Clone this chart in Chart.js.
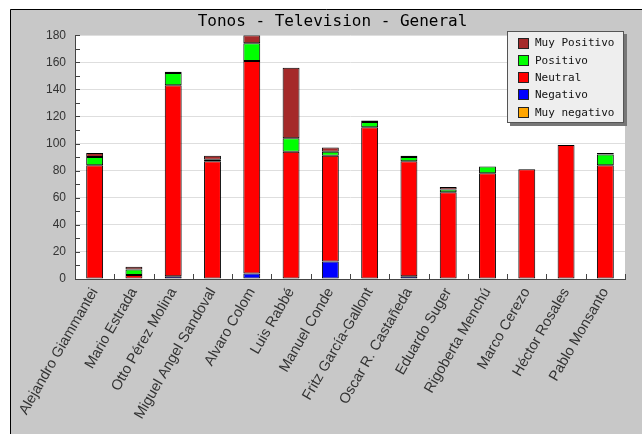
<!DOCTYPE html>
<html><head><meta charset="utf-8">
<script src="https://cdn.jsdelivr.net/npm/chart.js@4"></script>
<style>html,body{margin:0;padding:0;background:#fff}#wrap{width:642px;height:434px;position:relative}</style>
</head><body><div id="wrap"><canvas id="c" width="642" height="434"></canvas></div>
<script>
const categories = ["Alejandro Giammantei","Mario Estrada","Otto Pérez Molina","Miguel Angel Sandoval","Alvaro Colom","Luis Rabbé","Manuel Conde","Fritz García-Gallont","Oscar R. Castañeda","Eduardo Suger","Rigoberta Menchú","Marco Cerezo","Héctor Rosales","Pablo Monsanto"];
const muyNegativo = [0,0,0,0,0,0,0,0,0,0,0,0,0,0];
const negativo    = [0,0,2,0,4,0,13,0,2,0,0,0,0,0];
const neutral     = [84,3,141,87,157,94,78,112,85,64,78,81,99,84];
const positivo    = [6,4,9,1,13,10,3,4,3,2,5,0,0,8];
const muyPositivo = [3,2,1,3,6,52,3,1,1,2,0,0,0,1];
const seriesNames = ["Muy negativo","Negativo","Neutral","Positivo","Muy Positivo"];
const seriesColors = ["#ffa500","#0000ff","#ff0000","#00ff00","#a52a2a"];
const yMin = 0, yMax = 180, yStep = 20, yMinorStep = 10;
const titleText = "Tonos - Television - General";

const seriesData = [muyNegativo, negativo, neutral, positivo, muyPositivo];

const decoPlugin = {
  id: 'deco',
  beforeDraw(chart) {
    const ctx = chart.ctx, W = chart.width, H = chart.height;
    const a = chart.chartArea;
    ctx.save();
    ctx.fillStyle = '#fff'; ctx.fillRect(0, 0, W, H);
    ctx.fillStyle = '#c8c8c8'; ctx.fillRect(10, 9, W - 10, H - 9);
    ctx.strokeStyle = '#000'; ctx.lineWidth = 1;
    ctx.beginPath(); ctx.moveTo(10.5, H); ctx.lineTo(10.5, 9.5); ctx.lineTo(W, 9.5); ctx.stroke();
    ctx.fillStyle = '#fff'; ctx.fillRect(a.left, a.top, a.right - a.left, a.bottom - a.top);
    ctx.restore();
  },
  afterDraw(chart) {
    const ctx = chart.ctx, a = chart.chartArea;
    const xs = chart.scales.x, ys = chart.scales.y;
    ctx.save();
    ctx.strokeStyle = '#444'; ctx.lineWidth = 1;
    ctx.beginPath();
    for (let v = yMin; v <= yMax; v += yMinorStep) {
      const py = Math.round(ys.getPixelForValue(v)) + 0.5;
      ctx.moveTo(a.left, py); ctx.lineTo(a.left + 5, py);
    }
    for (let i = 0; i <= categories.length; i++) {
      const px = Math.round(xs.getPixelForValue(i - 0.5)) + 0.5;
      ctx.moveTo(px, a.bottom); ctx.lineTo(px, a.bottom - 5);
    }
    ctx.stroke();
    // legend
    const lx = 507, ly = 31, lw = 117, lh = 92;
    ctx.fillStyle = '#777'; ctx.fillRect(lx + 3, ly + 3, lw, lh);
    ctx.fillStyle = '#eeeeee'; ctx.fillRect(lx, ly, lw, lh);
    ctx.strokeStyle = '#555'; ctx.strokeRect(lx + 0.5, ly + 0.5, lw - 1, lh - 1);
    ctx.font = '11px "DejaVu Sans Mono"';
    ctx.textBaseline = 'middle'; ctx.textAlign = 'left';
    const ds = chart.data.datasets.slice().reverse();
    ds.forEach((d, i) => {
      const cy = 43 + i * 17.3;
      ctx.fillStyle = d.backgroundColor;
      ctx.fillRect(518, Math.round(cy - 5.5), 11, 11);
      ctx.strokeStyle = '#222';
      ctx.strokeRect(518.5, Math.round(cy - 5.5) + 0.5, 10, 10);
      ctx.fillStyle = '#111';
      ctx.fillText(d.label, 535, cy + 0.5);
    });
    ctx.restore();
  }
};

new Chart(document.getElementById('c'), {
  type: 'bar',
  data: {
    labels: categories,
    datasets: seriesNames.map((n, i) => ({
      label: n,
      data: seriesData[i],
      backgroundColor: seriesColors[i],
      borderColor: '#000',
      borderWidth: 1,
      borderSkipped: false,
      categoryPercentage: 1,
      barPercentage: 0.43
    }))
  },
  options: {
    responsive: false,
    animation: false,
    devicePixelRatio: 1,
    layout: { padding: { left: 40, right: 17, top: 0, bottom: 0 } },
    plugins: {
      legend: { display: false },
      tooltip: { enabled: false },
      title: {
        display: true, text: titleText, color: '#000',
        font: { family: 'DejaVu Sans Mono', size: 16, weight: 'normal', lineHeight: 1.2 },
        padding: { top: 12, bottom: 4 }
      }
    },
    scales: {
      x: {
        stacked: true,
        grid: { display: false, drawTicks: false },
        border: { display: true, color: '#444' },
        ticks: {
          autoSkip: false, minRotation: 60, maxRotation: 60, padding: 6,
          color: '#333', font: { family: 'Liberation Sans', size: 14.5 }
        },
        afterFit(s) { s.height = 155; }
      },
      y: {
        stacked: true, min: yMin, max: yMax,
        grid: { color: '#dedede', drawTicks: false },
        border: { display: true, color: '#444' },
        ticks: { stepSize: yStep, padding: 9, color: '#333', font: { family: 'Liberation Sans', size: 12 } },
        afterFit(s) { s.width = 35; }
      }
    }
  },
  plugins: [decoPlugin]
});
</script>
</body></html>
